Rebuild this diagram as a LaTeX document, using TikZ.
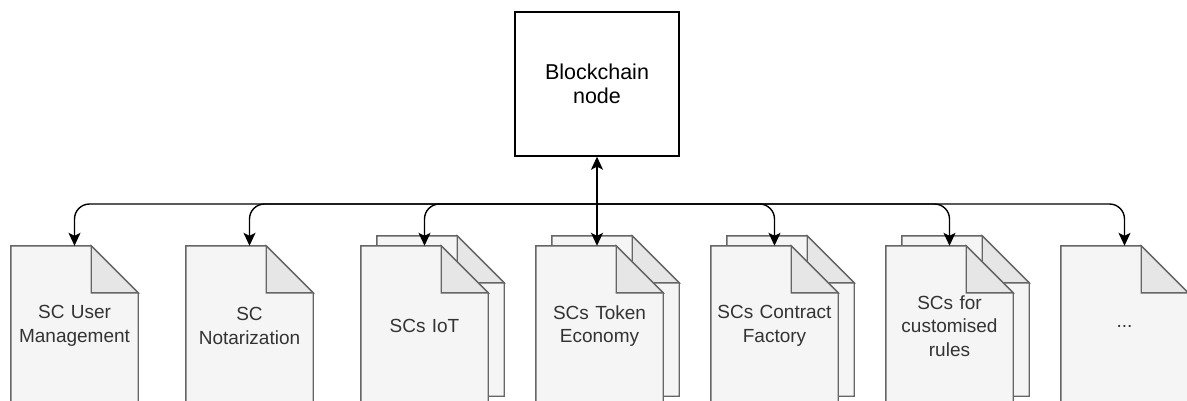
\documentclass[tikz,border=0pt]{standalone}
\usepackage{fontspec}
\setmainfont{Liberation Sans}
\usetikzlibrary{arrows.meta,backgrounds}

\definecolor{docfill}{HTML}{F5F5F5}
\definecolor{docline}{HTML}{666666}
\definecolor{foldfill}{HTML}{E6E6E6}
\definecolor{doctext}{HTML}{333333}

% folded-corner document outline drawn around a named node
\newcommand\drawdoc[1]{%
  \filldraw[docline, fill=docfill, line width=1.4pt, line join=miter]
    (#1.north west) -- ([xshift=-47pt]#1.north east) -- ([yshift=-47pt]#1.north east)
    -- (#1.south east) -- (#1.south west) -- cycle;
  \filldraw[docline, fill=foldfill, line width=1.4pt, line join=miter]
    ([xshift=-47pt]#1.north east) -- ([xshift=-47pt,yshift=-47pt]#1.north east)
    -- ([yshift=-47pt]#1.north east) -- cycle;
}

\begin{document}
\begin{tikzpicture}[x=1pt, y=-1pt,
  docbox/.style={minimum width=127pt, minimum height=160pt, inner sep=0pt,
    align=center, text width=124pt, text=doctext,
    font=\fontsize{19}{23.5}\selectfont},
  chainbox/.style={draw, line width=1.4pt, minimum width=164pt, minimum height=144pt,
    align=center, font=\fontsize{21.5}{24.5}\selectfont},
  tip/.style={Stealth[length=13pt,width=12pt,inset=3pt]},
  conn/.style={line width=1.4pt, arrows={-Stealth[length=13pt,width=12pt,inset=3pt]}},
  conn2/.style={line width=1.4pt, arrows={Stealth[length=13pt,width=12pt,inset=3pt]-Stealth[length=13pt,width=12pt,inset=3pt]}}
]
\useasboundingbox (0,0) rectangle (1187,400);

\node[chainbox] (bc) at (597,84) {Blockchain\\node};

% back sheets of the stacked documents
\node[docbox] (d3b) at (440.5,316) {};
\node[docbox] (d4b) at (615.5,316) {};
\node[docbox] (d5b) at (790.5,316) {};
\node[docbox] (d6b) at (965.5,316) {};

% front documents
\node[docbox] (d1) at (74.5,326)  {SC User\\Management};
\node[docbox] (d2) at (249.5,326) {SC\\Notarization};
\node[docbox] (d3) at (424.5,326) {SCs IoT};
\node[docbox] (d4) at (599.5,326) {SCs Token\\Economy};
\node[docbox] (d5) at (774.5,326) {SCs Contract\\Factory};
\node[docbox] (d6) at (949.5,326) {SCs for\\customised\\rules};
\node[docbox] (d7) at (1124.5,326) {...};

\begin{pgfonlayer}{background}
  \foreach \d in {d3b,d4b,d5b,d6b} {\drawdoc{\d}}
  \foreach \d in {d1,d2,d3,d4,d5,d6,d7} {\drawdoc{\d}}
\end{pgfonlayer}

% connectors
\coordinate (bus) at (597,204);
\draw[conn2] (bc.south) -- (bc.south |- d4.north);
\foreach \d in {d1,d2,d3,d5,d6,d7}
  \draw[conn, rounded corners=15pt] (bus) -| (\d.north);
\end{tikzpicture}
\end{document}
